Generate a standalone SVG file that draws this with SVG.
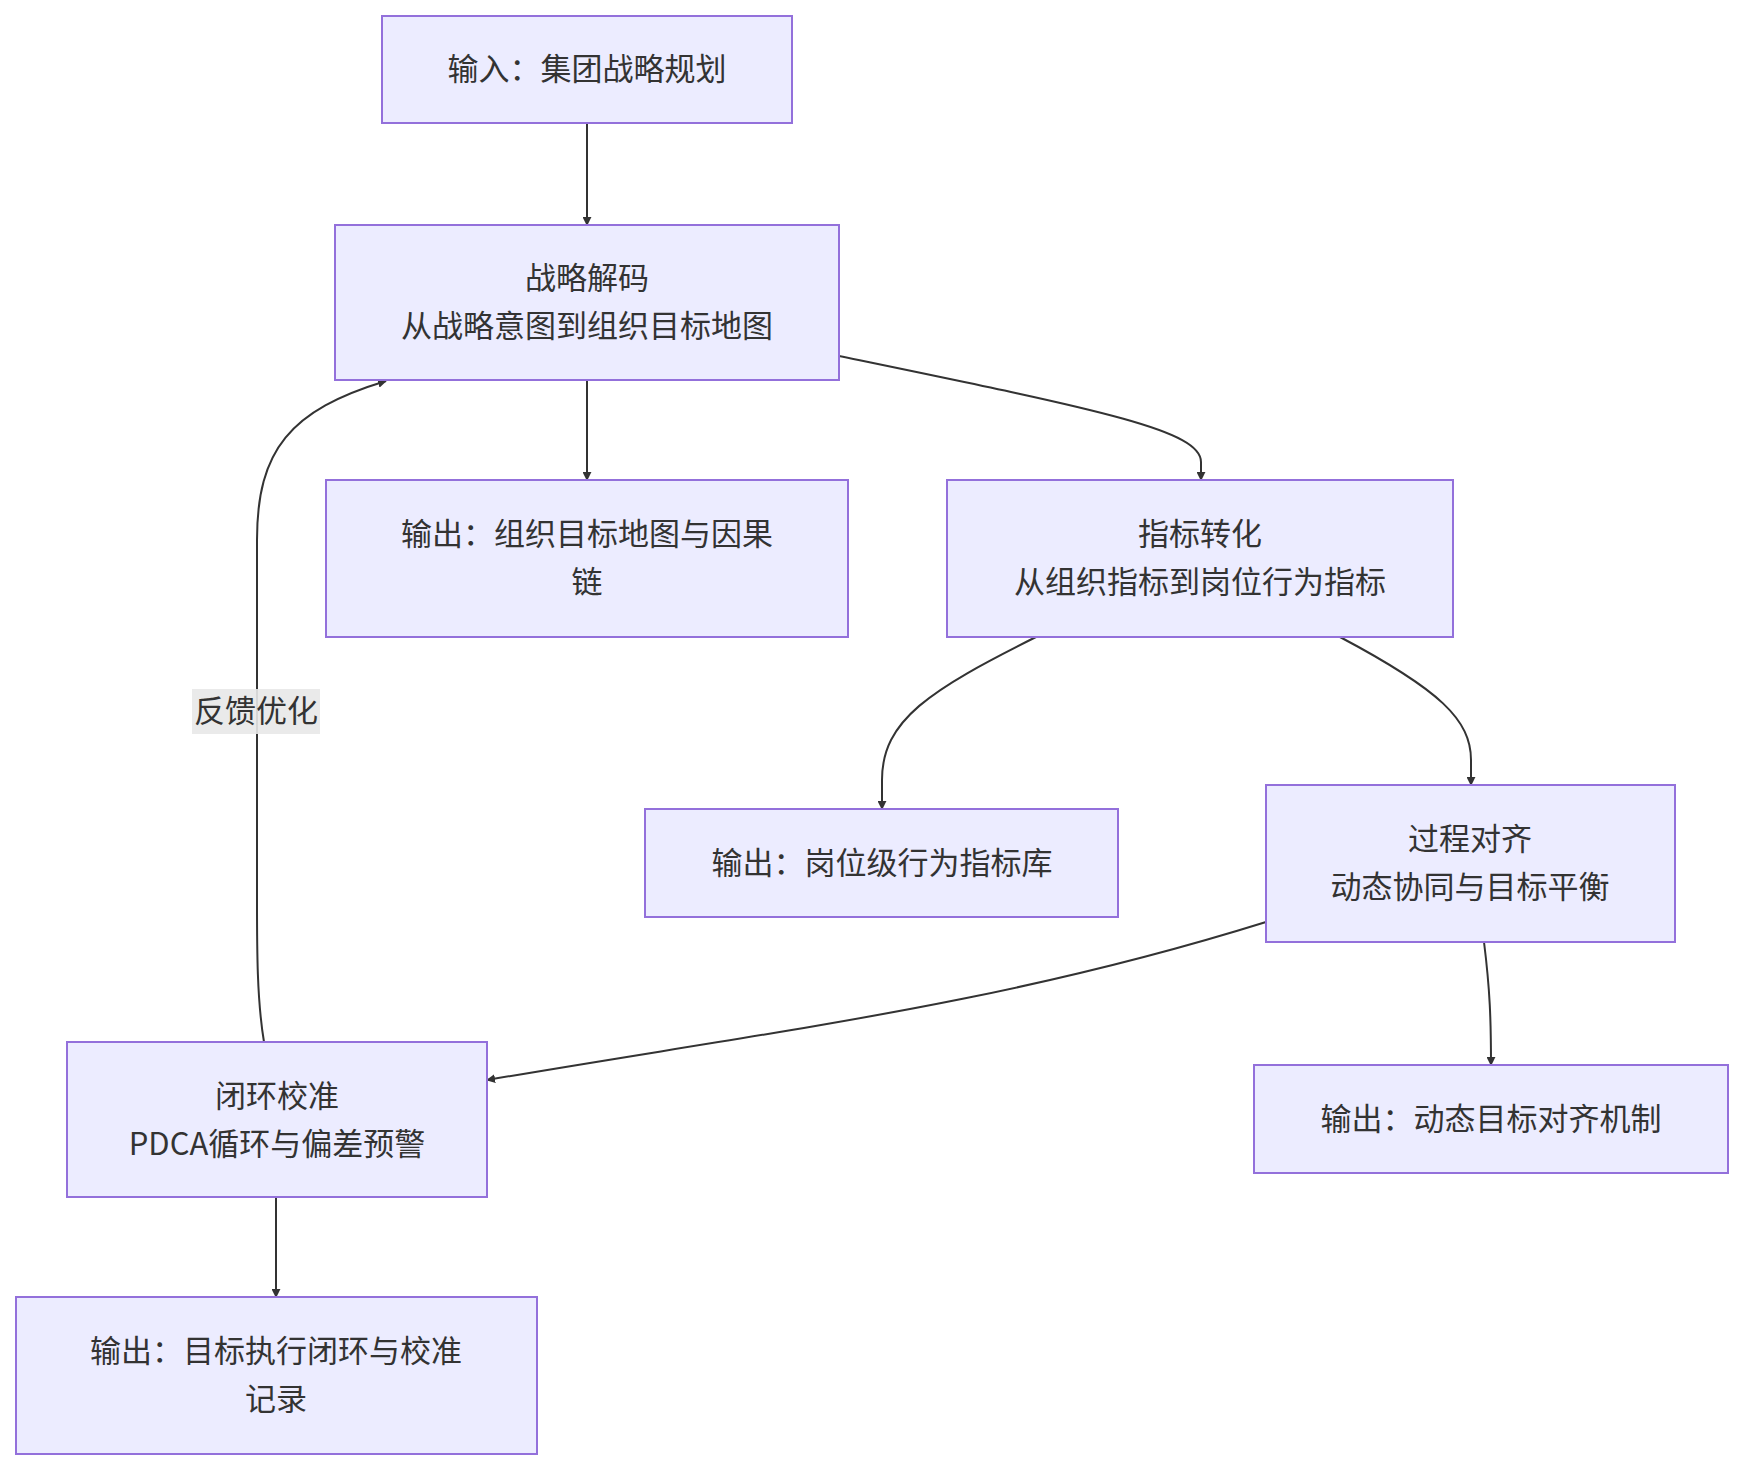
<svg xmlns="http://www.w3.org/2000/svg" width="1740" height="1468" viewBox="0 0 1740 1468">
<style>
.n rect{fill:#ECECFF;stroke:#9370DB;stroke-width:2}
.n text{font-family:"Noto Sans CJK SC","Liberation Sans",sans-serif;font-size:31px;fill:#333;text-anchor:middle}
.e path{fill:none;stroke:#333;stroke-width:2}
.lbl{font-family:"Noto Sans CJK SC","Liberation Sans",sans-serif;font-size:31px;fill:#333;text-anchor:middle}
</style>
<defs><marker id="a" viewBox="0 0 10 10" refX="9" refY="5" markerWidth="9" markerHeight="9" orient="auto-start-reverse" markerUnits="userSpaceOnUse"><path d="M0,0L10,5L0,10z" fill="#333"/></marker></defs>
<rect width="1740" height="1468" fill="#fff"/>
<g class="e">
<path d="M587,123V225" marker-end="url(#a)"/>
<path d="M587,380V480" marker-end="url(#a)"/>
<path d="M839,356C1100,410 1201,430 1201,462V480" marker-end="url(#a)"/>
<path d="M1036,637C930,690 882,720 882,780V809" marker-end="url(#a)"/>
<path d="M1340,637C1440,690 1471,720 1471,760V785" marker-end="url(#a)"/>
<path d="M1266,922C1000,1005 780,1030 487,1080" marker-end="url(#a)"/>
<path d="M1484,942C1490,990 1491,1020 1491,1065" marker-end="url(#a)"/>
<path d="M276,1197V1297" marker-end="url(#a)"/>
<path d="M264,1042C257,1000 257,950 257,900V540C257,450 290,410 386,381" marker-end="url(#a)"/>
</g>
<g id="label"><rect x="192" y="689" width="128" height="45" fill="#e8e8e8" opacity="0.9"/><text class="lbl" x="256" y="722">反馈优化</text></g>
<g id="n1" class="n"><rect x="382" y="16" width="410" height="107"/><text x="587" y="80">输入：集团战略规划</text></g>
<g id="n2" class="n"><rect x="335" y="225" width="504" height="155"/><text x="587" y="289">战略解码</text><text x="587" y="337">从战略意图到组织目标地图</text></g>
<g id="n3" class="n"><rect x="326" y="480" width="522" height="157"/><text x="587" y="545">输出：组织目标地图与因果</text><text x="587" y="593">链</text></g>
<g id="n4" class="n"><rect x="947" y="480" width="506" height="157"/><text x="1200" y="545">指标转化</text><text x="1200" y="593">从组织指标到岗位行为指标</text></g>
<g id="n5" class="n"><rect x="645" y="809" width="473" height="108"/><text x="882" y="874">输出：岗位级行为指标库</text></g>
<g id="n6" class="n"><rect x="1266" y="785" width="409" height="157"/><text x="1470" y="850">过程对齐</text><text x="1470" y="898">动态协同与目标平衡</text></g>
<g id="n7" class="n"><rect x="67" y="1042" width="420" height="155"/><text x="277" y="1107">闭环校准</text><text x="277" y="1155">PDCA循环与偏差预警</text></g>
<g id="n8" class="n"><rect x="1254" y="1065" width="474" height="108"/><text x="1491" y="1130">输出：动态目标对齐机制</text></g>
<g id="n9" class="n"><rect x="16" y="1297" width="521" height="157"/><text x="276" y="1362">输出：目标执行闭环与校准</text><text x="276" y="1410">记录</text></g>
</svg>
